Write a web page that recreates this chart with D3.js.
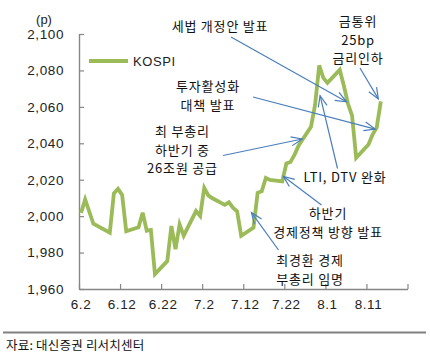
<!DOCTYPE html>
<html>
<head>
<meta charset="utf-8">
<script src="https://cdn.jsdelivr.net/npm/d3@7"></script>
<style>
  body { margin: 0; background: #fff; }
  svg { display: block; }
</style>
</head>
<body>
<svg id="drawing_region"></svg>
<script>
// KOSPI daily close, 2014
const dates = ["6.2","6.3","6.5","6.9","6.10","6.11","6.12","6.13","6.16","6.17","6.18","6.19","6.20",
    "6.23","6.24","6.25","6.26","6.27","6.30","7.1","7.2","7.3","7.4","7.7","7.8","7.9","7.10","7.11",
    "7.14","7.15","7.16","7.17","7.18","7.21","7.22","7.23","7.24","7.25","7.28","7.29","7.30","7.31",
    "8.1","8.4","8.5","8.6","8.7","8.8","8.11","8.12","8.13","8.14"];
const kospi = [2001.8,2009.2,1995.8,1990.9,2012.5,2015.0,2011.7,1991.7,1993.9,2001.9,1992.0,1992.4,1968.2,
    1975.3,1994.6,1981.9,1995.5,1989.3,2002.8,2000.1,2015.5,2011.4,2009.8,2006.2,2007.6,2004.6,2002.7,1989.2,
    1993.7,2012.8,2013.6,2021.0,2019.9,2019.1,2028.9,2029.7,2033.8,2038.8,2049.1,2061.2,2082.8,2075.9,
    2073.2,2080.3,2071.6,2061.7,2055.2,2032.0,2039.3,2044.8,2048.6,2063.0];

const yTicks = [1960, 1980, 2000, 2020, 2040, 2060, 2080, 2100];
const xTickLabels = ["6.2","6.12","6.22","7.2","7.12","7.22","8.1","8.11"];
const xTickEdges = ["6.2","6.12","6.22","7.2","7.12","7.22","8.1","8.11","8.21"];

const noteTexts = [
    ["세법 개정안 발표"],
    ["금통위", "25bp", "금리인하"],
    ["투자활성화", "대책 발표"],
    ["최 부총리", "하반기 중", "26조원 공급"],
    ["LTI, DTV 완화"],
    ["하반기", "경제정책 방향 발표"],
    ["최경환 경제", "부총리 임명"]
];
const noteTargets = ["8.6", "8.14", "8.13", "7.25", "7.29", "7.21", "7.14"];

const parseMD = s => {
    const [m, d] = s.split('.').map(Number);
    return new Date(Date.UTC(2014, m - 1, d));
};
const mid = s => d3.utcHour.offset(parseMD(s), 12);

const config = {
    width: 430,
    height: 354,
    margin: {top: 34, left: 79, right: 22, bottom: 65}
};
const innerW = 328.5;
const innerH = 255;

const svg = d3.select('#drawing_region')
    .attr('width', config.width)
    .attr('height', config.height)
    .style('font-family', '"Liberation Sans", "Noto Sans CJK KR", sans-serif');

const chart = svg.append('g')
    .attr('transform', `translate(${config.margin.left}, ${config.margin.top})`);

const xscale = d3.scaleUtc()
    .domain([parseMD("6.2"), parseMD("8.21")])
    .range([0, innerW]);

const yscale = d3.scaleLinear()
    .domain([1960, 2100])
    .range([innerH, 0]);

const axisColor = '#868686';

// y axis, ticks point inward
const yaxis_group = chart.append('g')
    .call(d3.axisLeft(yscale)
        .tickValues(yTicks)
        .tickSize(-5)
        .tickSizeOuter(0)
        .tickPadding(15)
        .tickFormat(d3.format(",")));

// x axis: tick marks at day boundaries, labels at day centres
const xaxis_group = chart.append('g')
    .attr('transform', `translate(0, ${innerH})`)
    .call(d3.axisBottom(xscale)
        .tickValues(xTickEdges.map(parseMD))
        .tickSize(-5)
        .tickSizeOuter(0)
        .tickFormat(''));

[yaxis_group, xaxis_group].forEach(g => {
    g.select('.domain').attr('stroke', axisColor).attr('stroke-width', 1.4);
    g.selectAll('.tick line').attr('stroke', axisColor).attr('stroke-width', 1.2);
});
yaxis_group.selectAll('.tick text')
    .attr('font-size', 13.5)
    .attr('letter-spacing', 0.6)
    .attr('fill', '#222')
    .attr('font-family', '"Liberation Sans", sans-serif');

chart.append('g')
    .selectAll('text')
    .data(xTickLabels)
    .join('text')
    .attr('x', d => xscale(mid(d)))
    .attr('y', innerH + 20)
    .attr('text-anchor', 'middle')
    .attr('font-size', 13.5)
    .attr('letter-spacing', 0.6)
    .attr('fill', '#222')
    .text(d => d);

svg.append('text')
    .attr('x', 44)
    .attr('y', 24)
    .attr('text-anchor', 'middle')
    .attr('font-size', 13)
    .attr('fill', '#222')
    .text('(p)');

// the KOSPI line
const points = dates.map((d, i) => ({date: mid(d), value: kospi[i]}));
const line = d3.line()
    .x(d => xscale(d.date))
    .y(d => yscale(d.value));

chart.append('path')
    .attr('d', line(points))
    .attr('fill', 'none')
    .attr('stroke', '#9BBB59')
    .attr('stroke-width', 3.8)
    .attr('stroke-linejoin', 'miter');

// legend
svg.append('line')
    .attr('x1', 89).attr('x2', 128)
    .attr('y1', 61).attr('y2', 61)
    .attr('stroke', '#9BBB59')
    .attr('stroke-width', 3.8);
svg.append('text')
    .attr('x', 133)
    .attr('y', 66)
    .attr('font-size', 13)
    .attr('letter-spacing', 0.6)
    .attr('fill', '#222')
    .text('KOSPI');

// annotations
svg.append('defs').append('marker')
    .attr('id', 'arrow')
    .attr('markerUnits', 'userSpaceOnUse')
    .attr('viewBox', '-12 -6 14 12')
    .attr('markerWidth', 14)
    .attr('markerHeight', 12)
    .attr('refX', 0)
    .attr('refY', 0)
    .attr('orient', 'auto')
    .append('path')
    .attr('d', 'M-11,-4.5 L0,0 L-11,4.5')
    .attr('fill', 'none')
    .attr('stroke', '#4A7EBB')
    .attr('stroke-width', 1.2);

// text centre x, first baseline, arrow start, arrow tip offset from target point
const noteLayout = [
    {cx: 220, y: 31, from: [231, 37], off: [-1.5, -2]},
    {cx: 358, y: 26, from: [360, 68], off: [-2.5, -2.5]},
    {cx: 208, y: 91, from: [253, 97], off: [-1.5, 1.5]},
    {cx: 182.5, y: 136, from: [223, 155.5], off: [3.5, -6.5]},
    {cx: 345, y: 182, from: [337.5, 168.5], off: [5, -9]},
    {cx: 328, y: 218, from: [321.5, 205], off: [1, -5]},
    {cx: 310, y: 265, from: [278.5, 250], off: [-2, -15]}
];

noteTexts.forEach((lines, i) => {
    const L = noteLayout[i];
    const target = kospi[dates.indexOf(noteTargets[i])];
    const tx = config.margin.left + xscale(mid(noteTargets[i])) + L.off[0];
    const ty = config.margin.top + yscale(target) + L.off[1];

    svg.append('line')
        .attr('x1', L.from[0]).attr('y1', L.from[1])
        .attr('x2', tx).attr('y2', ty)
        .attr('stroke', '#4A7EBB')
        .attr('stroke-width', 1.2)
        .attr('marker-end', 'url(#arrow)');

    const t = svg.append('text')
        .attr('text-anchor', 'middle')
        .attr('font-size', 13)
        .attr('letter-spacing', 0.8)
        .attr('fill', '#111')
        .attr('font-family', '"Noto Sans CJK KR", sans-serif');
    lines.forEach((s, j) => {
        t.append('tspan')
            .attr('x', L.cx)
            .attr('y', L.y + j * 18.5)
            .text(s);
    });
});

// source line
svg.append('line')
    .attr('x1', 3).attr('x2', 426)
    .attr('y1', 332.5).attr('y2', 332.5)
    .attr('stroke', '#808080')
    .attr('stroke-width', 2.2);
svg.append('text')
    .attr('x', 6)
    .attr('y', 350)
    .attr('font-size', 12.5)
    .attr('letter-spacing', 0.2)
    .attr('fill', '#111')
    .attr('font-family', '"Noto Sans CJK KR", sans-serif')
    .text('자료: 대신증권 리서치센터');
</script>
</body>
</html>
